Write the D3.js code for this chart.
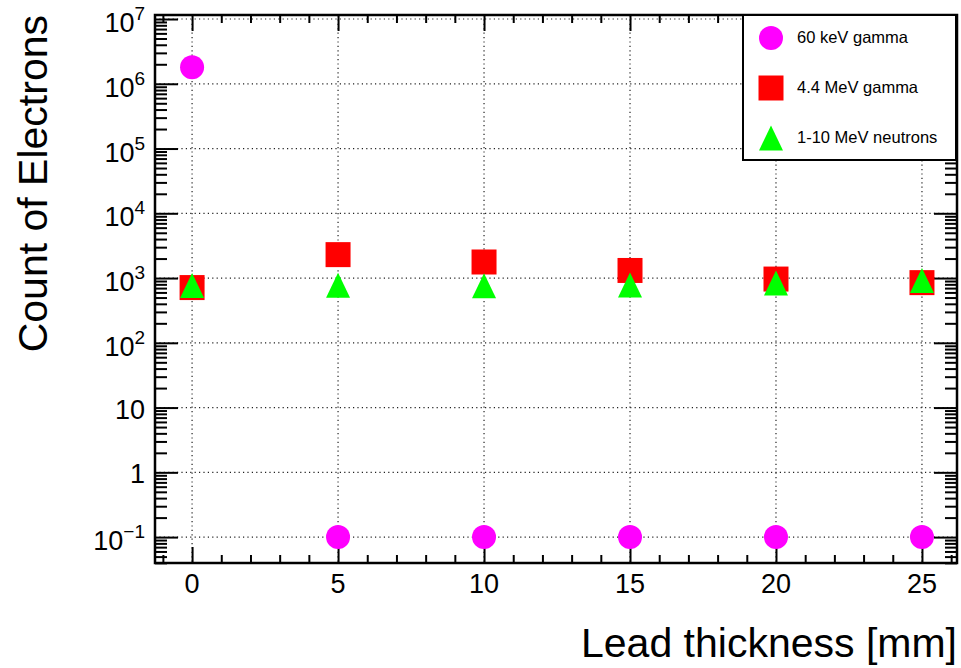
<!DOCTYPE html>
<html>
<head>
<meta charset="utf-8">
<script src="https://cdn.jsdelivr.net/npm/d3@7"></script>
<style>
  body { margin: 0; background: #fff; }
  text { font-family: 'Liberation Sans', Arial, Helvetica, sans-serif; }
</style>
</head>
<body>
<div id="chart"></div>
<script>
// lead thickness values (mm)
const thickness = [0, 5, 10, 15, 20, 25]
// counts
const gamma60keV = [1.8e6, 0.1, 0.1, 0.1, 0.1, 0.1]
const gamma44MeV = [713, 2300, 1770, 1310, 965, 850]
const neutrons = [766, 775, 760, 780, 837, 915]

const seriesNames = ['60 keV gamma', '4.4 MeV gamma', '1-10 MeV neutrons']
const xTickValues = [0, 5, 10, 15, 20, 25]
const yMajorExps = [-1, 0, 1, 2, 3, 4, 5, 6, 7]

const drawChart = () => {
  const dims = { width: 961, height: 668, left: 155, right: 957, top: 15, bottom: 563 }

  const svg = d3.select('#chart')
    .append('svg')
    .attr('width', dims.width)
    .attr('height', dims.height)

  const xScale = d3.scaleLinear()
    .domain([-1.27, 26.2])
    .range([dims.left, dims.right])

  const yScale = d3.scaleLog()
    .domain([Math.pow(10, -1.4), Math.pow(10, 7.062)])
    .range([dims.bottom, dims.top])

  const yMajor = yMajorExps.map(e => Math.pow(10, e))
  const yMinor = []
  for (let e = -2; e <= 7; e++) {
    for (let m = 2; m <= 9; m++) {
      const v = m * Math.pow(10, e)
      if (v >= yScale.domain()[0] && v <= yScale.domain()[1]) yMinor.push(v)
    }
  }
  const xMinor = d3.range(-1, 27).filter(v => v % 5 !== 0)

  // grid
  const grid = svg.append('g')
    .attr('stroke', '#222')
    .attr('stroke-width', 1.2)
    .attr('stroke-dasharray', '1.2,3.2')
  grid.selectAll('.gx').data(xTickValues).join('line')
    .attr('x1', d => xScale(d)).attr('x2', d => xScale(d))
    .attr('y1', dims.top).attr('y2', dims.bottom)
  grid.selectAll('.gy').data(yMajor).join('line')
    .attr('x1', dims.left).attr('x2', dims.right)
    .attr('y1', d => yScale(d)).attr('y2', d => yScale(d))

  // axes ticks (inside the frame, mirrored)
  const tickStyle = g => {
    g.select('.domain').remove()
    g.selectAll('.tick line').attr('stroke', '#000').attr('stroke-width', 2)
    g.selectAll('.tick text').remove()
  }
  svg.append('g').attr('transform', `translate(${dims.left},0)`)
    .call(d3.axisLeft(yScale).tickValues(yMajor).tickSize(-23)).call(tickStyle)
  svg.append('g').attr('transform', `translate(${dims.left},0)`)
    .call(d3.axisLeft(yScale).tickValues(yMinor).tickSize(-12)).call(tickStyle)
  svg.append('g').attr('transform', `translate(${dims.right},0)`)
    .call(d3.axisRight(yScale).tickValues(yMajor).tickSize(-23)).call(tickStyle)
  svg.append('g').attr('transform', `translate(${dims.right},0)`)
    .call(d3.axisRight(yScale).tickValues(yMinor).tickSize(-12)).call(tickStyle)
  svg.append('g').attr('transform', `translate(0,${dims.bottom})`)
    .call(d3.axisBottom(xScale).tickValues(xTickValues).tickSize(-16)).call(tickStyle)
  svg.append('g').attr('transform', `translate(0,${dims.bottom})`)
    .call(d3.axisBottom(xScale).tickValues(xMinor).tickSize(-8)).call(tickStyle)
  svg.append('g').attr('transform', `translate(0,${dims.top})`)
    .call(d3.axisTop(xScale).tickValues(xTickValues).tickSize(-16)).call(tickStyle)
  svg.append('g').attr('transform', `translate(0,${dims.top})`)
    .call(d3.axisTop(xScale).tickValues(xMinor).tickSize(-8)).call(tickStyle)

  // frame
  svg.append('rect')
    .attr('x', dims.left).attr('y', dims.top)
    .attr('width', dims.right - dims.left).attr('height', dims.bottom - dims.top)
    .attr('fill', 'none').attr('stroke', '#000').attr('stroke-width', 2.5)

  // x tick labels
  svg.append('g').selectAll('text').data(xTickValues).join('text')
    .attr('x', d => xScale(d)).attr('y', 593)
    .attr('text-anchor', 'middle').attr('font-size', 27)
    .text(d => d)

  // y tick labels with superscripts
  const yLabels = svg.append('g').attr('font-size', 27).attr('text-anchor', 'end')
  yMajorExps.forEach(e => {
    const y = yScale(Math.pow(10, e))
    const t = yLabels.append('text').attr('x', 145)
    if (e === 0 || e === 1) {
      t.attr('y', y + 11).text(e === 0 ? '1' : '10')
    } else {
      t.attr('y', y + 13)
      t.append('tspan').text('10')
      t.append('tspan').attr('font-size', 19).attr('dy', -12)
        .text(e < 0 ? '\u2212' + (-e) : e)
    }
  })

  // axis titles
  svg.append('text')
    .attr('x', dims.right).attr('y', 657)
    .attr('text-anchor', 'end').attr('font-size', 41)
    .text('Lead thickness [mm]')
  svg.append('text')
    .attr('transform', `translate(47,${dims.top}) rotate(-90)`)
    .attr('text-anchor', 'end').attr('font-size', 41)
    .text('Count of Electrons')

  // markers: ROOT-like triangle (24 wide, 25 tall, centred on its box)
  const rootTriangle = {
    draw (context) {
      context.moveTo(0, -12.5)
      context.lineTo(12, 12.5)
      context.lineTo(-12, 12.5)
      context.closePath()
    }
  }
  const markers = {
    circle: d3.symbol(d3.symbolCircle, Math.PI * 12 * 12),
    square: d3.symbol(d3.symbolSquare, 25 * 25),
    triangle: d3.symbol(rootTriangle)
  }
  const colors = { circle: '#ff00ff', square: '#ff0000', triangle: '#00ff00' }
  const plotSeries = (values, type) => {
    svg.append('g').selectAll('path').data(values).join('path')
      .attr('d', markers[type])
      .attr('transform', (d, i) => `translate(${xScale(thickness[i])},${yScale(d)})`)
      .attr('fill', colors[type])
  }
  plotSeries(gamma60keV, 'circle')
  plotSeries(gamma44MeV, 'square')
  plotSeries(neutrons, 'triangle')

  // legend
  const legend = svg.append('g')
  legend.append('rect')
    .attr('x', 743).attr('y', dims.top).attr('width', 213).attr('height', 145)
    .attr('fill', '#fff').attr('stroke', '#000').attr('stroke-width', 2)
  const legendTypes = ['circle', 'square', 'triangle']
  const legendY = [38, 88, 138]
  seriesNames.forEach((name, i) => {
    legend.append('path')
      .attr('d', markers[legendTypes[i]])
      .attr('transform', `translate(771,${legendY[i]})`)
      .attr('fill', colors[legendTypes[i]])
    legend.append('text')
      .attr('x', 797).attr('y', legendY[i] + 5)
      .attr('font-size', 16.5)
      .text(name)
  })
}

drawChart()
</script>
</body>
</html>
